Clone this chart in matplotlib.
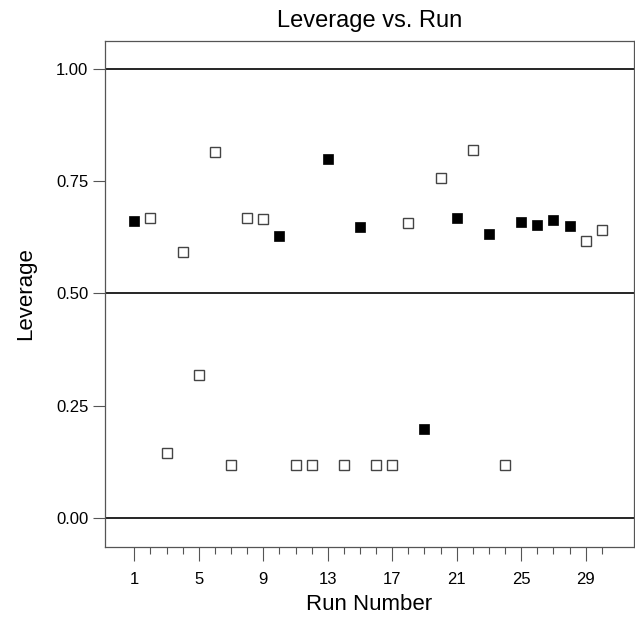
import numpy as np
import matplotlib.pyplot as plt
from matplotlib.ticker import FixedLocator, FormatStrFormatter

plt.rcParams['font.family'] = ['Liberation Sans', 'DejaVu Sans']

# leverage per run, filled = flagged runs
runs = list(range(1, 31))
leverage = [0.661, 0.668, 0.145, 0.593, 0.317, 0.815, 0.118, 0.667, 0.665, 0.628,
            0.118, 0.118, 0.799, 0.118, 0.647, 0.118, 0.118, 0.657, 0.198, 0.757,
            0.667, 0.820, 0.633, 0.118, 0.658, 0.652, 0.664, 0.649, 0.617, 0.640]
filled = [1, 0, 0, 0, 0, 0, 0, 0, 0, 1,
          0, 0, 1, 0, 1, 0, 0, 0, 1, 0,
          1, 0, 1, 0, 1, 1, 1, 1, 0, 0]
ref_lines = [0.0, 0.5, 1.0]
y_ticks = [0.0, 0.25, 0.5, 0.75, 1.0]
x_ticks = [1, 5, 9, 13, 17, 21, 25, 29]

runs = np.array(runs)
leverage = np.array(leverage)
filled = np.array(filled, dtype=bool)

fig = plt.figure(figsize=(6.35, 6.19), dpi=100)
ax = fig.add_axes([0.1654, 0.1163, 0.833, 0.8175])

for y in ref_lines:
    ax.axhline(y, color='black', lw=1.2, zorder=1)

ax.plot(runs[~filled], leverage[~filled], 's', ms=7, mfc='white', mec='#444444', mew=1.0, zorder=3)
ax.plot(runs[filled], leverage[filled], 's', ms=7.2, mfc='black', mec='black', mew=0.5, zorder=3)

ax.set_xlim(-0.82, 32)
ax.set_ylim(-0.065, 1.062)

ax.xaxis.set_major_locator(FixedLocator(x_ticks))
ax.xaxis.set_minor_locator(FixedLocator(runs))
ax.yaxis.set_major_locator(FixedLocator(y_ticks))
ax.yaxis.set_major_formatter(FormatStrFormatter('%.2f'))
ax.tick_params(axis='x', which='major', length=10, width=0.8, color='#555555', labelsize=12, pad=8)
ax.tick_params(axis='x', which='minor', length=5, width=0.8, color='#555555')
ax.tick_params(axis='y', which='major', length=9, width=0.8, color='#555555', labelsize=12, pad=3)

for s in ax.spines.values():
    s.set_color('#555555')
    s.set_linewidth(0.9)

ax.set_title('Leverage vs. Run', fontsize=17, pad=10)
ax.set_xlabel('Run Number', fontsize=16, labelpad=5)
ax.set_ylabel('Leverage', fontsize=16, labelpad=14)

fig.savefig('out.png', dpi=100)
